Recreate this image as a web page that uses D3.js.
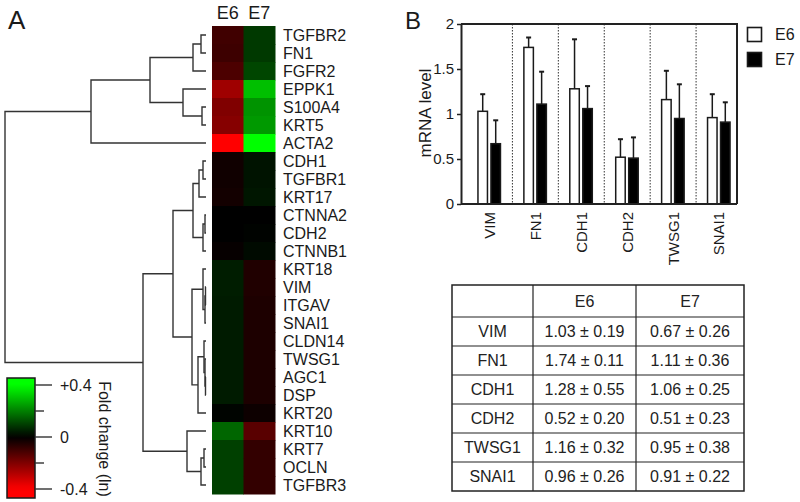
<!DOCTYPE html>
<html><head><meta charset="utf-8">
<script src="https://cdn.jsdelivr.net/npm/d3@7"></script>
<style>
body{margin:0;background:#fff;}
svg{display:block;font-family:"Liberation Sans",Arial,Helvetica,sans-serif;}
</style></head><body>
<svg id="chart" width="800" height="502"></svg>
<script>
// ---------- DATA ----------
const heatGenes = ["TGFBR2","FN1","FGFR2","EPPK1","S100A4","KRT5","ACTA2","CDH1","TGFBR1","KRT17","CTNNA2","CDH2","CTNNB1","KRT18","VIM","ITGAV","SNAI1","CLDN14","TWSG1","AGC1","DSP","KRT20","KRT10","KRT7","OCLN","TGFBR3"];
const heatSamples = ["E6","E7"];
const heatE6 = [-0.10,-0.095,-0.12,-0.25,-0.20,-0.21,-0.40,-0.025,-0.025,-0.03,0,0,-0.01,0.045,0.045,0.042,0.042,0.042,0.042,0.042,0.042,0.006,0.16,0.10,0.10,0.10];
const heatE7 = [0.09,0.09,0.11,0.30,0.23,0.24,0.40,0.03,0.03,0.035,0,0.004,0.015,-0.05,-0.05,-0.045,-0.045,-0.045,-0.045,-0.045,-0.045,-0.02,-0.14,-0.08,-0.08,-0.08];
// dendrogram merges: [childA, childB, height]; indices < 26 are leaves, >= 26 are earlier merges
const merges = [
  [14,15,0.5],[19,20,0.5],[10,11,1],[26,16,1],[18,27,1],[17,30,2],[23,24,2],
  [7,8,3],[28,12,3],[13,29,3],[4,5,4],[0,1,5],[32,25,5],[33,9,7],[31,21,8],
  [37,2,13],[39,34,13],[35,40,14],[22,38,19],[3,36,23],[42,43,33],[41,45,56],
  [46,44,63],[47,6,115],[49,48,201]
];
const colorTicks = [-0.4,-0.2,0,0.2,0.4];
const colorTickLabels = {"-0.4":"-0.4","0":"0","0.4":"+0.4"};

const barGenes = ["VIM","FN1","CDH1","CDH2","TWSG1","SNAI1"];
const e6Mean = [1.03,1.74,1.28,0.52,1.16,0.96];
const e6Sd   = [0.19,0.11,0.55,0.20,0.32,0.26];
const e7Mean = [0.67,1.11,1.06,0.51,0.95,0.91];
const e7Sd   = [0.26,0.36,0.25,0.23,0.38,0.22];
const yTicks = [0,0.5,1,1.5,2];
const seriesNames = ["E6","E7"];

// ---------- SETUP ----------
const svg = d3.select("#chart");
const ink = "#1a1a1a";
const color = d3.scaleLinear().domain([-0.4,0,0.4]).range(["#ff0000","#000000","#00ff00"]).clamp(true);

// Panel letters
svg.append("text").attr("x",8).attr("y",29).attr("font-size",26).attr("fill",ink).text("A");
svg.append("text").attr("x",405).attr("y",29).attr("font-size",24).attr("fill",ink).text("B");

// ---------- HEATMAP ----------
const rowY = d3.scaleBand().domain(heatGenes).range([26,494]);
const colX = d3.scaleBand().domain(heatSamples).range([212,275]);
const heatVals = [heatE6, heatE7];
heatSamples.forEach((s,si)=>{
  svg.append("g").selectAll("rect").data(heatGenes).join("rect")
    .attr("x",colX(s)).attr("y",g=>rowY(g))
    .attr("width",colX.bandwidth()+0.5).attr("height",rowY.bandwidth()+0.5)
    .attr("fill",(g,i)=>color(heatVals[si][i]));
});
svg.append("g").selectAll("text").data(heatSamples).join("text")
  .attr("x",s=>colX(s)+colX.bandwidth()/2).attr("y",19)
  .attr("text-anchor","middle").attr("font-size",18).attr("fill",ink).text(s=>s);
svg.append("g").selectAll("text").data(heatGenes).join("text")
  .attr("x",283).attr("y",g=>rowY(g)+rowY.bandwidth()/2)
  .attr("dy","0.36em").attr("font-size",16).attr("fill",ink).text(g=>g);

// ---------- DENDROGRAM ----------
const hx = d3.scaleLinear().domain([0,201]).range([206,5]);
const nodes = heatGenes.map(g=>({y:rowY(g)+rowY.bandwidth()/2,h:0}));
const dg = svg.append("g").attr("fill","none").attr("stroke","#333").attr("stroke-width",1.4);
merges.forEach(([a,b,h])=>{
  const A = nodes[a], B = nodes[b];
  const n = {y:(A.y+B.y)/2, h:h};
  nodes.push(n);
  const p = d3.path();
  p.moveTo(hx(A.h),A.y); p.lineTo(hx(h),A.y); p.lineTo(hx(h),B.y); p.lineTo(hx(B.h),B.y);
  dg.append("path").attr("d",p.toString());
});

// ---------- COLOR BAR ----------
const cbY = d3.scaleLinear().domain([-0.4,0.4]).range([489,385]);
const cbTop = 378, cbBot = 498;
const grad = svg.append("defs").append("linearGradient").attr("id","cbgrad")
  .attr("x1",0).attr("y1",0).attr("x2",0).attr("y2",1);
d3.range(0,1.0001,0.05).forEach(t=>{
  const v = cbY.invert(cbTop + t*(cbBot-cbTop));
  grad.append("stop").attr("offset",t).attr("stop-color",color(v));
});
svg.append("rect").attr("x",7).attr("y",cbTop).attr("width",28).attr("height",cbBot-cbTop)
  .attr("fill","url(#cbgrad)").attr("stroke",ink).attr("stroke-width",1.5);
svg.append("g").selectAll("line").data(colorTicks).join("line")
  .attr("x1",35).attr("x2",v=>colorTickLabels[String(v)]?52:44)
  .attr("y1",v=>cbY(v)).attr("y2",v=>cbY(v)).attr("stroke","#333").attr("stroke-width",1.4);
svg.append("g").selectAll("text").data(colorTicks.filter(v=>colorTickLabels[String(v)])).join("text")
  .attr("x",60).attr("y",v=>cbY(v)).attr("dy","0.36em").attr("font-size",16).attr("fill",ink)
  .text(v=>colorTickLabels[String(v)]);
svg.append("text").attr("transform","translate(99,439) rotate(90)").attr("text-anchor","middle")
  .attr("font-size",16).attr("fill",ink).text("Fold change (ln)");

// ---------- BAR CHART ----------
const pL = 461, pR = 737, pT = 24, pB = 204;
const y = d3.scaleLinear().domain([0,2]).range([pB,pT]);
const x = d3.scaleBand().domain(barGenes).range([466.5,742]).padding(0);
const bw = 9.5;
const barG = svg.append("g");
// separators
barG.selectAll("line.sep").data(barGenes.slice(0,-1)).join("line")
  .attr("x1",g=>x(g)+x.step()).attr("x2",g=>x(g)+x.step())
  .attr("y1",pT).attr("y2",pB).attr("stroke","#333").attr("stroke-width",1)
  .attr("stroke-dasharray","1.5,1.5");
const means = [e6Mean,e7Mean], sds = [e6Sd,e7Sd];
means.forEach((m,si)=>{
  const off = si===0 ? -11.5 : 1.5;
  const gs = barG.append("g");
  gs.selectAll("line.err").data(barGenes).join("line")
    .attr("x1",(g,i)=>x(g)+x.bandwidth()/2+off+bw/2).attr("x2",(g,i)=>x(g)+x.bandwidth()/2+off+bw/2)
    .attr("y1",(g,i)=>y(m[i])).attr("y2",(g,i)=>y(m[i]+sds[si][i])).attr("stroke",ink).attr("stroke-width",1.5);
  gs.selectAll("line.cap").data(barGenes).join("line")
    .attr("x1",(g,i)=>x(g)+x.bandwidth()/2+off+bw/2-2.5).attr("x2",(g,i)=>x(g)+x.bandwidth()/2+off+bw/2+2.5)
    .attr("y1",(g,i)=>y(m[i]+sds[si][i])).attr("y2",(g,i)=>y(m[i]+sds[si][i])).attr("stroke",ink).attr("stroke-width",2);
  gs.selectAll("rect").data(barGenes).join("rect")
    .attr("x",g=>x(g)+x.bandwidth()/2+off).attr("y",(g,i)=>y(m[i]))
    .attr("width",bw).attr("height",(g,i)=>pB-y(m[i]))
    .attr("fill",si===0?"#fff":"#000").attr("stroke",ink).attr("stroke-width",1.5);
});
// frame
barG.append("path").attr("d",`M${pL},${pT}H${pR}V${pB}`).attr("fill","none").attr("stroke","#222").attr("stroke-width",2);
// y axis
const yAx = svg.append("g").attr("transform",`translate(${pL},0)`)
  .call(d3.axisLeft(y).tickValues(yTicks).tickFormat(d3.format("~g")).tickSize(4).tickSizeOuter(0));
yAx.select(".domain").attr("stroke","#222").attr("stroke-width",2);
yAx.selectAll(".tick line").attr("stroke","#222").attr("stroke-width",1.5);
yAx.selectAll("text").attr("font-size",15).attr("font-family","Liberation Sans, Arial").attr("fill",ink).attr("x",-7);
// x axis
const xAx = svg.append("g").attr("transform",`translate(0,${pB})`)
  .call(d3.axisBottom(x).tickSize(0).tickSizeOuter(0));
xAx.select(".domain").attr("d",`M${pL},0H${pR}`).attr("stroke","#222").attr("stroke-width",2);
xAx.selectAll("text").attr("font-size",15).attr("font-family","Liberation Sans, Arial").attr("fill",ink)
  .attr("transform","rotate(-90)").attr("text-anchor","end").attr("x",-8).attr("y",0).attr("dy","0.36em");
svg.append("text").attr("transform","translate(431,113) rotate(-90)").attr("text-anchor","middle")
  .attr("font-size",17).attr("fill",ink).text("mRNA level");
// legend
const leg = svg.append("g");
seriesNames.forEach((s,i)=>{
  leg.append("rect").attr("x",747.5).attr("y",27.5+i*25).attr("width",14).attr("height",14)
    .attr("fill",i===0?"#fff":"#000").attr("stroke",ink).attr("stroke-width",1.6);
  leg.append("text").attr("x",775).attr("y",34.5+i*25).attr("dy","0.36em")
    .attr("font-size",16).attr("fill",ink).text(s);
});

// ---------- TABLE ----------
const colEdges = [452,533,636,744];
const tTop = 285, hdrB = 317, rowH = 29;
const tBot = hdrB + rowH*barGenes.length;
const tg = svg.append("g");
const fmt = d3.format(".2f");
tg.append("rect").attr("x",colEdges[0]).attr("y",tTop).attr("width",colEdges[3]-colEdges[0]).attr("height",tBot-tTop)
  .attr("fill","none").attr("stroke","#222").attr("stroke-width",1.5);
[colEdges[1],colEdges[2]].forEach(cx=>tg.append("line").attr("x1",cx).attr("x2",cx).attr("y1",tTop).attr("y2",tBot).attr("stroke","#222").attr("stroke-width",1.2));
d3.range(barGenes.length).forEach(i=>tg.append("line").attr("x1",colEdges[0]).attr("x2",colEdges[3])
  .attr("y1",hdrB+i*rowH).attr("y2",hdrB+i*rowH).attr("stroke","#222").attr("stroke-width",1.2));
const cc = i=>(colEdges[i]+colEdges[i+1])/2;
seriesNames.forEach((s,i)=>tg.append("text").attr("x",cc(i+1)).attr("y",(tTop+hdrB)/2).attr("dy","0.36em")
  .attr("text-anchor","middle").attr("font-size",16).attr("fill","#222").text(s));
barGenes.forEach((g,i)=>{
  const cy = hdrB + rowH*i + rowH/2;
  tg.append("text").attr("x",cc(0)).attr("y",cy).attr("dy","0.36em").attr("text-anchor","middle").attr("font-size",16).attr("fill","#222").text(g);
  tg.append("text").attr("x",cc(1)).attr("y",cy).attr("dy","0.36em").attr("text-anchor","middle").attr("font-size",16).attr("fill","#222").text(`${fmt(e6Mean[i])} ± ${fmt(e6Sd[i])}`);
  tg.append("text").attr("x",cc(2)).attr("y",cy).attr("dy","0.36em").attr("text-anchor","middle").attr("font-size",16).attr("fill","#222").text(`${fmt(e7Mean[i])} ± ${fmt(e7Sd[i])}`);
});
</script>
</body></html>
